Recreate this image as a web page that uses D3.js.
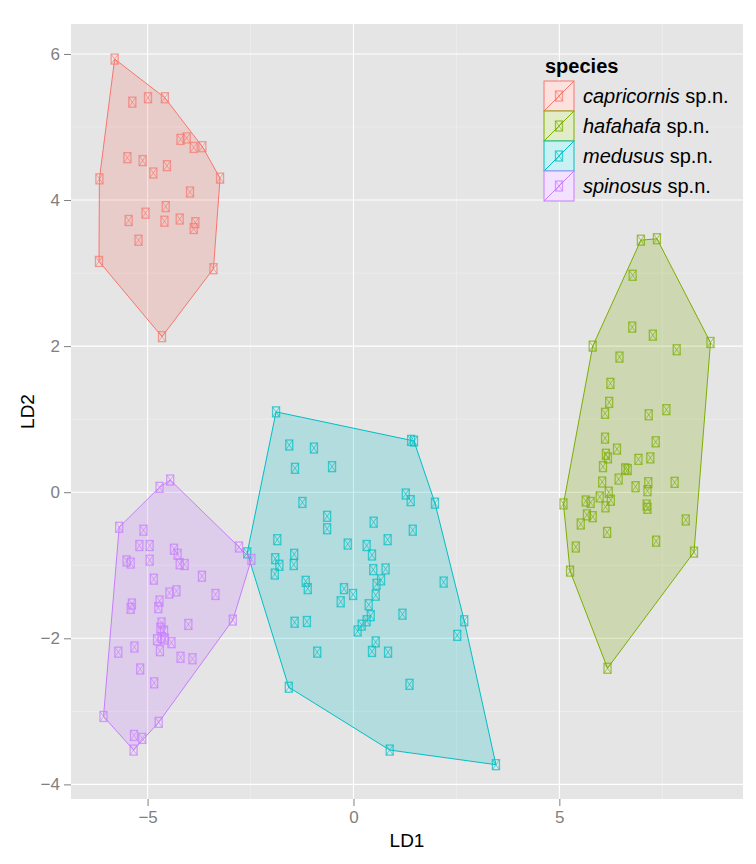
<!DOCTYPE html>
<html>
<head>
<meta charset="utf-8">
<script src="https://cdn.jsdelivr.net/npm/d3@7"></script>
<style>
  body { margin: 0; background: #fff; }
  svg { font-family: "Liberation Sans", Arial, Helvetica, sans-serif; }
</style>
</head>
<body>
<svg width="756" height="864"></svg>
<script>
// LD scores
var species = ["capricornis", "hafahafa", "medusus", "spinosus"];
var colors = ["#F8766D", "#7CAE00", "#00BFC4", "#C77CFF"];

var capricornis = [
  [-5.80, 5.93], [-5.37, 5.34], [-4.99, 5.40], [-4.58, 5.40], [-4.20, 4.83], [-4.05, 4.85],
  [-3.88, 4.72], [-3.67, 4.73], [-5.49, 4.58], [-5.12, 4.54], [-4.53, 4.47], [-4.86, 4.37],
  [-6.17, 4.29], [-3.24, 4.30], [-3.97, 4.11], [-4.56, 3.91], [-5.05, 3.82], [-5.46, 3.72],
  [-4.59, 3.71], [-4.22, 3.74], [-3.84, 3.69], [-3.88, 3.61], [-5.22, 3.45], [-6.18, 3.16],
  [-3.40, 3.06], [-4.65, 2.13]
];
var hafahafa = [
  [6.98, 3.45], [7.37, 3.47], [6.78, 2.97], [6.77, 2.26], [7.27, 2.15], [5.81, 2.00],
  [8.67, 2.05], [7.85, 1.95], [6.46, 1.85], [6.24, 1.49], [6.21, 1.23], [6.11, 1.08],
  [7.17, 1.06], [7.60, 1.13], [6.11, 0.74], [7.34, 0.69], [6.40, 0.59], [6.13, 0.52],
  [6.18, 0.47], [6.92, 0.45], [7.21, 0.47], [6.06, 0.35], [6.60, 0.32], [6.66, 0.31],
  [6.44, 0.18], [6.04, 0.14], [6.85, 0.075], [7.16, 0.13], [7.14, 0.02], [7.80, 0.135],
  [6.20, 0.00], [5.98, -0.065], [6.25, -0.11], [5.64, -0.12], [5.76, -0.14], [6.12, -0.20],
  [7.12, -0.175], [7.14, -0.22], [5.10, -0.16], [5.67, -0.31], [5.81, -0.335], [5.52, -0.435],
  [8.07, -0.38], [6.16, -0.55], [7.35, -0.67], [5.40, -0.75], [8.27, -0.82], [5.26, -1.08],
  [6.17, -2.41]
];
var medusus = [
  [-1.88, 1.10], [1.40, 0.71], [1.47, 0.70], [-1.56, 0.646], [-0.96, 0.605], [-1.42, 0.327],
  [-0.52, 0.35], [1.27, -0.025], [1.39, -0.116], [1.98, -0.15], [-1.24, -0.14], [-0.64, -0.33],
  [-0.64, -0.50], [0.49, -0.41], [1.44, -0.52], [-1.85, -0.65], [-0.14, -0.71], [0.32, -0.73],
  [0.83, -0.65], [-2.58, -0.83], [-1.44, -0.85], [0.45, -0.86], [-1.90, -0.91], [-1.80, -1.00],
  [-1.45, -0.99], [-1.91, -1.12], [0.48, -1.06], [0.78, -1.05], [0.67, -1.20], [0.56, -1.26],
  [-1.16, -1.22], [-1.11, -1.32], [-0.23, -1.32], [-0.01, -1.40], [0.54, -1.41], [-0.31, -1.50],
  [0.37, -1.54], [0.42, -1.69], [0.32, -1.76], [0.20, -1.82], [0.10, -1.90], [1.19, -1.67],
  [2.19, -1.23], [-1.43, -1.78], [-1.13, -1.77], [2.69, -1.76], [2.52, -1.96], [0.54, -2.05],
  [0.45, -2.18], [0.84, -2.19], [-0.88, -2.19], [1.36, -2.63], [-1.57, -2.67], [0.88, -3.53],
  [3.46, -3.73]
];
var spinosus = [
  [-4.45, 0.167], [-4.71, 0.067], [-5.69, -0.48], [-5.10, -0.52], [-5.20, -0.73], [-4.95, -0.73],
  [-4.36, -0.78], [-4.27, -0.85], [-5.51, -0.94], [-5.41, -0.97], [-4.95, -0.93], [-4.22, -0.98],
  [-4.10, -0.99], [-2.78, -0.75], [-2.48, -0.92], [-4.85, -1.19], [-3.68, -1.15], [-4.47, -1.38],
  [-4.30, -1.35], [-3.35, -1.40], [-5.38, -1.53], [-5.41, -1.59], [-4.71, -1.49], [-4.74, -1.58],
  [-2.93, -1.75], [-4.66, -1.79], [-4.69, -1.86], [-4.60, -1.90], [-4.01, -1.81], [-4.77, -2.02],
  [-4.58, -2.01], [-4.42, -2.06], [-4.66, -1.99], [-5.32, -2.12], [-5.71, -2.19], [-4.70, -2.17],
  [-4.20, -2.26], [-3.91, -2.28], [-5.18, -2.42], [-4.84, -2.61], [-6.07, -3.07], [-4.73, -3.15],
  [-5.33, -3.33], [-5.13, -3.37], [-5.34, -3.53]
];
var groups = [capricornis, hafahafa, medusus, spinosus];

var xTicks = [-5, 0, 5];
var yTicks = [-4, -2, 0, 2, 4, 6];
var xMinor = [-2.5, 2.5, 7.5];
var yMinor = [-3, -1, 1, 3, 5];

var svg = d3.select("svg");
var panel = {left: 71, top: 24, right: 743, bottom: 799};

var x = d3.scaleLinear().domain([-6.86, 9.46]).range([panel.left, panel.right]);
var y = d3.scaleLinear().domain([-4.20, 6.41]).range([panel.bottom, panel.top]);

svg.append("rect")
    .attr("x", panel.left).attr("y", panel.top)
    .attr("width", panel.right - panel.left).attr("height", panel.bottom - panel.top)
    .attr("fill", "#E5E5E5");

// grid
var grid = svg.append("g");
xMinor.forEach(function(v) {
    grid.append("line").attr("x1", x(v)).attr("x2", x(v)).attr("y1", panel.top).attr("y2", panel.bottom)
        .attr("stroke", "#F2F2F2").attr("stroke-width", 0.6);
});
yMinor.forEach(function(v) {
    grid.append("line").attr("y1", y(v)).attr("y2", y(v)).attr("x1", panel.left).attr("x2", panel.right)
        .attr("stroke", "#F2F2F2").attr("stroke-width", 0.6);
});
xTicks.forEach(function(v) {
    grid.append("line").attr("x1", x(v)).attr("x2", x(v)).attr("y1", panel.top).attr("y2", panel.bottom)
        .attr("stroke", "#fff").attr("stroke-width", 1.1);
});
yTicks.forEach(function(v) {
    grid.append("line").attr("y1", y(v)).attr("y2", y(v)).attr("x1", panel.left).attr("x2", panel.right)
        .attr("stroke", "#fff").attr("stroke-width", 1.1);
});

// hulls
groups.forEach(function(pts, i) {
    var hull = d3.polygonHull(pts.map(function(d) { return [x(d[0]), y(d[1])]; }));
    svg.append("path")
        .attr("d", "M" + hull.join("L") + "Z")
        .attr("fill", colors[i]).attr("fill-opacity", 0.22)
        .attr("stroke", colors[i]).attr("stroke-width", 1);
});

function drawPoint(g, cx, cy, col) {
    var w = 3.5, h = 5;
    g.append("rect").attr("x", cx - w).attr("y", cy - h).attr("width", 2 * w).attr("height", 2 * h)
        .attr("fill", "none").attr("stroke", col).attr("stroke-opacity", 0.7).attr("stroke-width", 1.3);
    g.append("path")
        .attr("d", "M" + (cx - w) + "," + (cy - h) + "L" + (cx + w) + "," + (cy + h) +
                   "M" + (cx + w) + "," + (cy - h) + "L" + (cx - w) + "," + (cy + h))
        .attr("fill", "none").attr("stroke", col).attr("stroke-opacity", 0.7).attr("stroke-width", 0.9);
}

var pg = svg.append("g");
groups.forEach(function(pts, i) {
    pts.forEach(function(d) { drawPoint(pg, x(d[0]), y(d[1]), colors[i]); });
});

// axes
function minus(d) { return d < 0 ? "\u2212" + Math.abs(d) : d; }
var xAxis = svg.append("g").attr("transform", "translate(0," + panel.bottom + ")")
    .call(d3.axisBottom(x).tickValues(xTicks).tickSize(7).tickPadding(3).tickFormat(minus));
var yAxis = svg.append("g").attr("transform", "translate(" + panel.left + ",0)")
    .call(d3.axisLeft(y).tickValues(yTicks).tickSize(7).tickPadding(4).tickFormat(minus));
[xAxis, yAxis].forEach(function(a) {
    a.select(".domain").remove();
    a.selectAll(".tick line").attr("stroke", "#7F7F7F");
    a.selectAll(".tick text").attr("fill", "#7F7F7F").style("font-size", "17px")
        .style("font-family", "'Liberation Sans', Arial, sans-serif");
});
xAxis.selectAll(".tick text").attr("dy", "0.85em");

svg.append("text").attr("x", (panel.left + panel.right) / 2).attr("y", 847)
    .attr("text-anchor", "middle").style("font-size", "19px").text("LD1");
svg.append("text").attr("transform", "translate(34," + ((panel.top + panel.bottom) / 2) + ") rotate(-90)")
    .attr("text-anchor", "middle").style("font-size", "19px").text("LD2");

// legend
var lg = svg.append("g").attr("transform", "translate(544,81)");
lg.append("text").attr("x", 1).attr("y", -8).style("font-size", "20px").style("font-weight", "bold").text("species");
species.forEach(function(s, i) {
    var row = lg.append("g").attr("transform", "translate(0," + (i * 30) + ")");
    row.append("rect").attr("width", 30).attr("height", 30).attr("fill", "#fff");
    row.append("rect").attr("width", 30).attr("height", 30)
        .attr("fill", colors[i]).attr("fill-opacity", 0.22)
        .attr("stroke", colors[i]).attr("stroke-width", 1);
    row.append("line").attr("x1", 0).attr("y1", 30).attr("x2", 30).attr("y2", 0)
        .attr("stroke", colors[i]).attr("stroke-width", 1);
    drawPoint(row, 15, 15, colors[i]);
    var t = row.append("text").attr("x", 39).attr("y", 22).style("font-size", "20px");
    t.append("tspan").style("font-style", "italic").text(s);
    t.append("tspan").text(" sp.n.");
});
</script>
</body>
</html>
